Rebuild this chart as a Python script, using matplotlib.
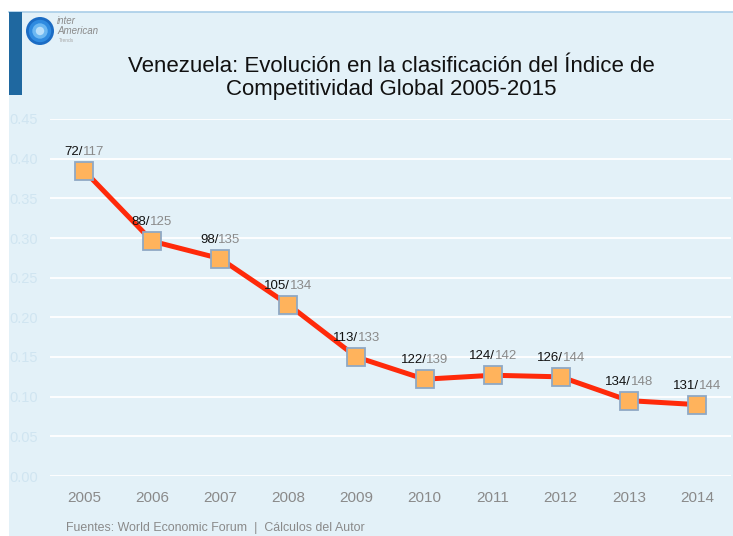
import matplotlib
matplotlib.use("Agg")
import matplotlib.pyplot as plt
import matplotlib.patches as mpatches
from matplotlib.offsetbox import TextArea, HPacker, AnnotationBbox

plt.rcParams["font.family"] = ["Liberation Sans", "DejaVu Sans"]

years = [2005, 2006, 2007, 2008, 2009, 2010, 2011, 2012, 2013, 2014]
score = [0.385, 0.296, 0.274, 0.216, 0.150, 0.122, 0.127, 0.125, 0.095, 0.090]
rank = ["72", "88", "98", "105", "113", "122", "124", "126", "134", "131"]
total = ["117", "125", "135", "134", "133", "139", "142", "144", "148", "144"]
yticks = [0.00, 0.05, 0.10, 0.15, 0.20, 0.25, 0.30, 0.35, 0.40, 0.45]

BG = "#e3f1f8"
LINE = "#ff2a0a"
MARK = "#ffb35c"
GRAY = "#8a8a8a"

W, H = 733, 536
fig = plt.figure(figsize=(W / 100, H / 100), dpi=100)
fig.patch.set_facecolor("white")

# light blue panel + top border + dark side bar
fig.patches.append(mpatches.Rectangle((9 / W, 0), 1, (H - 12) / H, transform=fig.transFigure,
                                      fc=BG, ec="none", zorder=-2))
fig.lines.append(plt.Line2D([9 / W, 1], [(H - 12) / H] * 2, transform=fig.transFigure,
                            color="#a9cde8", lw=1.2, zorder=-1))
fig.patches.append(mpatches.Rectangle((9 / W, (H - 95) / H), 13 / W, 83 / H,
                                      transform=fig.transFigure, fc="#1f68a0", ec="none", zorder=1))

# logo: globe + wordmark
gx, gy, gr = 40 / W, (H - 31) / H, 14
for r, c in [(gr, "#1b6cc4"), (gr * 0.8, "#2f8be0"), (gr * 0.55, "#6cb8f2"), (gr * 0.3, "#b9e0fb")]:
    fig.patches.append(mpatches.Ellipse((gx, gy), 2 * r / W, 2 * r / H, transform=fig.transFigure,
                                        fc=c, ec="none", zorder=2))
fig.text(57 / W, (H - 21) / H, "inter", fontsize=7, style="italic", color=GRAY, va="center")
fig.text(57 / W, (H - 31) / H, "American", fontsize=7, style="italic", color=GRAY, va="center")
fig.text(59 / W, (H - 40) / H, "Trends", fontsize=3.5, color="#aaaaaa", va="center")

fig.text(391 / W, (H - 78) / H,
         "Venezuela: Evolución en la clasificación del Índice de\nCompetitividad Global 2005-2015",
         ha="center", va="center", fontsize=16, color="#111111", linespacing=1.1)

ax = fig.add_axes([50 / W, 60 / H, 681 / W, 357 / H])
ax.set_facecolor("none")
ax.plot(years, score, color=LINE, lw=3.6, zorder=3)
ax.plot(years, score, ls="none", marker="s", ms=12.5, mfc=MARK, mec="#8fa8c4", mew=1.3, zorder=4)

for x, y, a, b in zip(years, score, rank, total):
    box = HPacker(children=[TextArea(a + "/", textprops=dict(color="#111111", fontsize=9.5)),
                            TextArea(b, textprops=dict(color=GRAY, fontsize=9.5))],
                  align="baseline", pad=0, sep=0)
    ab = AnnotationBbox(box, (x, y), xybox=(0, 13.5), xycoords="data", boxcoords="offset points",
                        frameon=False, zorder=5)
    ax.add_artist(ab)

ax.set_xlim(2004.5, 2014.5)
ax.set_ylim(0, 0.45)
ax.set_yticks(yticks)
ax.set_yticklabels([f"{v:.2f}" for v in yticks], color="#d0e5f1", fontsize=10.5)
ax.set_xticks(years)
ax.set_xticklabels([str(y) for y in years], color=GRAY, fontsize=11)
ax.tick_params(length=0, axis="y", pad=8.5)
ax.tick_params(length=0, axis="x", pad=11)
ax.grid(axis="y", color="white", lw=1.3)
ax.set_axisbelow(True)
for s in ax.spines.values():
    s.set_visible(False)

fig.text(66 / W, 2 / H, "Fuentes: World Economic Forum  |  Cálculos del Autor",
         fontsize=8.9, color=GRAY, va="bottom")

fig.savefig("out.png", dpi=100)
